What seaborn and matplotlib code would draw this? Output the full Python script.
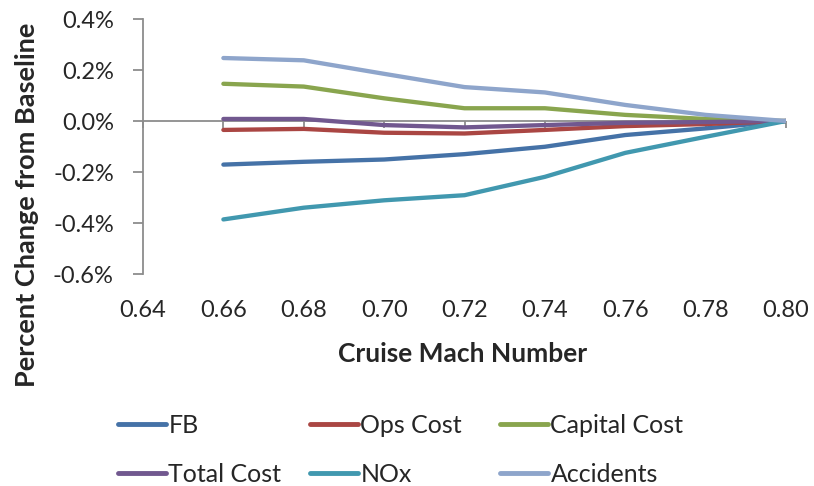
import matplotlib
matplotlib.use("Agg")
import matplotlib.pyplot as plt
import matplotlib.ticker as mticker
import seaborn as sns
import pandas as pd

mach = [0.66, 0.68, 0.70, 0.72, 0.74, 0.76, 0.78, 0.80]

# percent change from baseline (in %)
fb = [-0.171, -0.160, -0.151, -0.130, -0.101, -0.055, -0.029, 0.0]
ops_cost = [-0.035, -0.031, -0.046, -0.049, -0.035, -0.020, -0.012, 0.0]
capital_cost = [0.146, 0.135, 0.089, 0.050, 0.050, 0.024, 0.008, 0.0]
total_cost = [0.008, 0.008, -0.016, -0.025, -0.016, -0.007, -0.004, 0.0]
nox = [-0.386, -0.340, -0.311, -0.291, -0.219, -0.125, -0.062, 0.0]
accidents = [0.247, 0.238, 0.185, 0.133, 0.112, 0.063, 0.024, 0.0]

series_names = ['FB', 'Ops Cost', 'Capital Cost', 'Total Cost', 'NOx', 'Accidents']
series_vals = [fb, ops_cost, capital_cost, total_cost, nox, accidents]
colors = ['#4572A7', '#AA4643', '#89A54E', '#71588F', '#4198AF', '#8EA5CB']
x_ticks = [0.64, 0.66, 0.68, 0.70, 0.72, 0.74, 0.76, 0.78, 0.80]
y_ticks = [-0.6, -0.4, -0.2, 0.0, 0.2, 0.4]

rows = []
for name, vals in zip(series_names, series_vals):
    for m, v in zip(mach, vals):
        rows.append({'Mach': m, 'Change': v, 'Series': name})
df = pd.DataFrame(rows)

sns.set_style('white')
plt.rcParams['font.family'] = ['Lato', 'DejaVu Sans']

fig = plt.figure(figsize=(8.14, 4.86), dpi=100)
ax = fig.add_axes([143 / 814, 1 - 274 / 486, (786 - 143) / 814, (274 - 19) / 486])

ax.axhline(0, color='#8c8c8c', lw=1.3, zorder=0)
sns.lineplot(data=df, x='Mach', y='Change', hue='Series', hue_order=series_names,
             palette=colors, linewidth=3.1, ax=ax, legend=False,
             solid_capstyle='round', solid_joinstyle='round')

ax.set_xlim(0.64, 0.80)
ax.set_ylim(-0.6, 0.4)
ax.set_xticks(x_ticks)
ax.set_yticks(y_ticks)
ax.xaxis.set_major_formatter(mticker.FormatStrFormatter('%.2f'))
ax.yaxis.set_major_formatter(mticker.FuncFormatter(lambda v, p: f'{v:.1f}%'))

for s in ['top', 'right', 'bottom']:
    ax.spines[s].set_visible(False)
ax.spines['left'].set_color('#8c8c8c')
ax.spines['left'].set_linewidth(1.3)

ax.tick_params(axis='y', direction='out', length=7, color='#8c8c8c', width=1.3,
               labelsize=17, pad=14, left=True)
ax.tick_params(axis='x', length=0, labelsize=17, pad=19)

# small tick marks on the horizontal axis crossing at zero
sec = ax.secondary_xaxis(0.6)
sec.set_xticks(x_ticks)
sec.xaxis.set_ticks_position('bottom')
sec.tick_params(axis='x', direction='out', length=5, color='#8c8c8c', width=1.3,
                labelbottom=False, labeltop=False)
for s in sec.spines.values():
    s.set_visible(False)

ax.set_xlabel('Cruise Mach Number', fontsize=19, fontweight='bold')
ax.xaxis.set_label_coords(0.497, -0.265)
ax.set_ylabel('Percent Change from Baseline', fontsize=19.5, fontweight='bold')
ax.yaxis.set_label_coords(-0.162, 0.27)

# Excel lays the legend out in equal-width columns: one legend per column
col_x = [118, 310, 500]
for c in range(3):
    idx = [c, c + 3]
    handles = [plt.Line2D([0], [0], color=colors[i], lw=3.5, solid_capstyle='round') for i in idx]
    labels = [series_names[i] for i in idx]
    fig.legend(handles, labels, ncol=1, loc='center left',
               bbox_to_anchor=(col_x[c] / 814, 1 - 450 / 486),
               frameon=False, fontsize=18, handlelength=1.9, handletextpad=0.12,
               labelspacing=1.05, borderpad=0, borderaxespad=0)

fig.savefig('out.png', dpi=100)
